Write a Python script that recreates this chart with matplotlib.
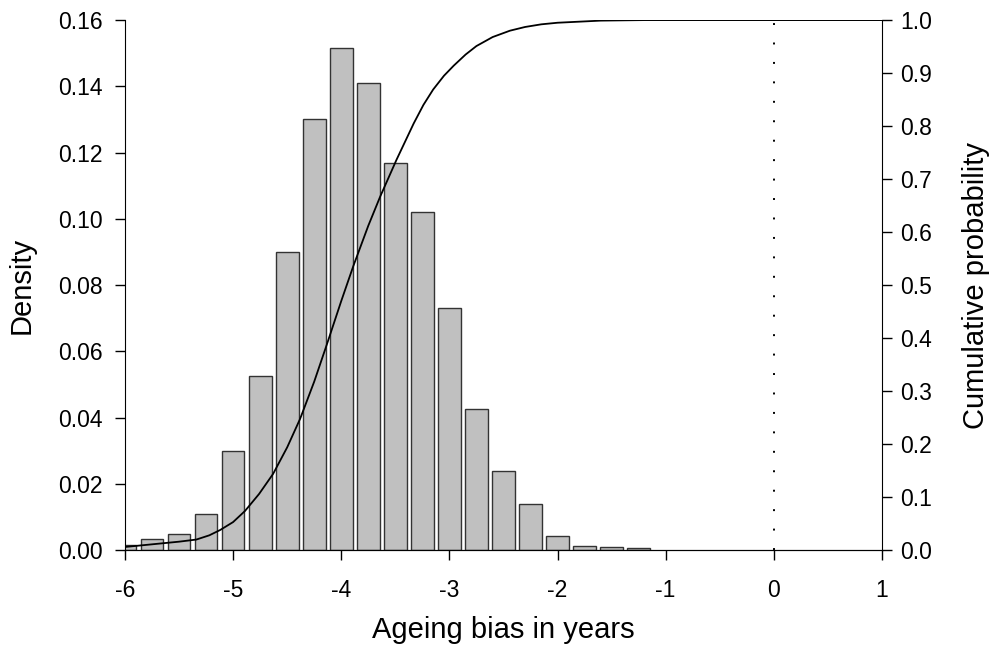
import matplotlib
matplotlib.use("Agg")
import matplotlib.pyplot as plt

plt.rcParams["font.family"] = ["Liberation Sans", "DejaVu Sans"]

# histogram of ageing bias (bar centres, density)
bin_centres = [-6.0, -5.75, -5.5, -5.25, -5.0, -4.75, -4.5, -4.25, -4.0, -3.75,
               -3.5, -3.25, -3.0, -2.75, -2.5, -2.25, -2.0, -1.75, -1.5, -1.25]
density = [0.0015, 0.0035, 0.005, 0.011, 0.030, 0.0525, 0.090, 0.130, 0.1515, 0.141,
           0.117, 0.102, 0.073, 0.0425, 0.024, 0.014, 0.0044, 0.0014, 0.001, 0.0005]

# cumulative probability curve
cdf_x = [-6.0, -5.8, -5.65, -5.5, -5.34, -5.22, -5.12, -5.0, -4.89, -4.76, -4.63,
         -4.5, -4.38, -4.25, -4.13, -4.0, -3.89, -3.75, -3.64, -3.49, -3.33,
         -3.24, -3.15, -3.05, -2.96, -2.85, -2.75, -2.6, -2.44, -2.3, -2.15,
         -2.0, -1.8, -1.6, -1.4, -1.2, 1.0]
cdf_y = [0.006, 0.010, 0.013, 0.016, 0.020, 0.028, 0.038, 0.053, 0.074, 0.106, 0.144,
         0.194, 0.248, 0.318, 0.390, 0.470, 0.535, 0.612, 0.667, 0.736, 0.805,
         0.840, 0.869, 0.895, 0.914, 0.935, 0.951, 0.968, 0.980, 0.987, 0.992,
         0.995, 0.997, 0.999, 0.9995, 1.0, 1.0]

x_ticks = [-6, -5, -4, -3, -2, -1, 0, 1]
left_ticks = [0.00, 0.02, 0.04, 0.06, 0.08, 0.10, 0.12, 0.14, 0.16]
right_ticks = [0.0, 0.1, 0.2, 0.3, 0.4, 0.5, 0.6, 0.7, 0.8, 0.9, 1.0]

fig = plt.figure(figsize=(9.92, 6.48), dpi=100)
ax = fig.add_axes([0.126, 0.151, 0.763, 0.818])

ax.bar(bin_centres, density, width=0.21, color="#c0c0c0",
       edgecolor="#333333", linewidth=1.0, zorder=2)
ax.set_xlim(-6, 1)
ax.set_ylim(0, 0.16)
ax.set_xticks(x_ticks)
ax.set_xticklabels([str(t) for t in x_ticks])
ax.set_yticks(left_ticks)
ax.set_yticklabels([f"{t:.2f}" for t in left_ticks])
ax.set_xlabel("Ageing bias in years", fontsize=21, labelpad=10)
ax.set_ylabel("Density", fontsize=21, labelpad=16)
ax.tick_params(direction="out", length=7, width=1, labelsize=16.5)
ax.tick_params(axis="x", pad=14)
ax.tick_params(axis="y", pad=9)
ax.spines["top"].set_visible(False)
ax.spines["right"].set_visible(False)

# zero-bias reference line
ax.axvline(0, color="black", linestyle=(0, (1, 9)), linewidth=1.4, zorder=1)

ax2 = ax.twinx()
ax2.plot(cdf_x, cdf_y, color="black", linewidth=1.3)
ax2.set_ylim(0, 1.0)
ax2.set_yticks(right_ticks)
ax2.set_yticklabels([f"{t:.1f}" for t in right_ticks])
ax2.set_ylabel("Cumulative probability", fontsize=21, labelpad=22)
ax2.tick_params(direction="out", length=7, width=1, labelsize=16.5, pad=6)
ax2.spines["top"].set_visible(False)
ax2.spines["left"].set_visible(False)

fig.savefig("out.png", dpi=100)
